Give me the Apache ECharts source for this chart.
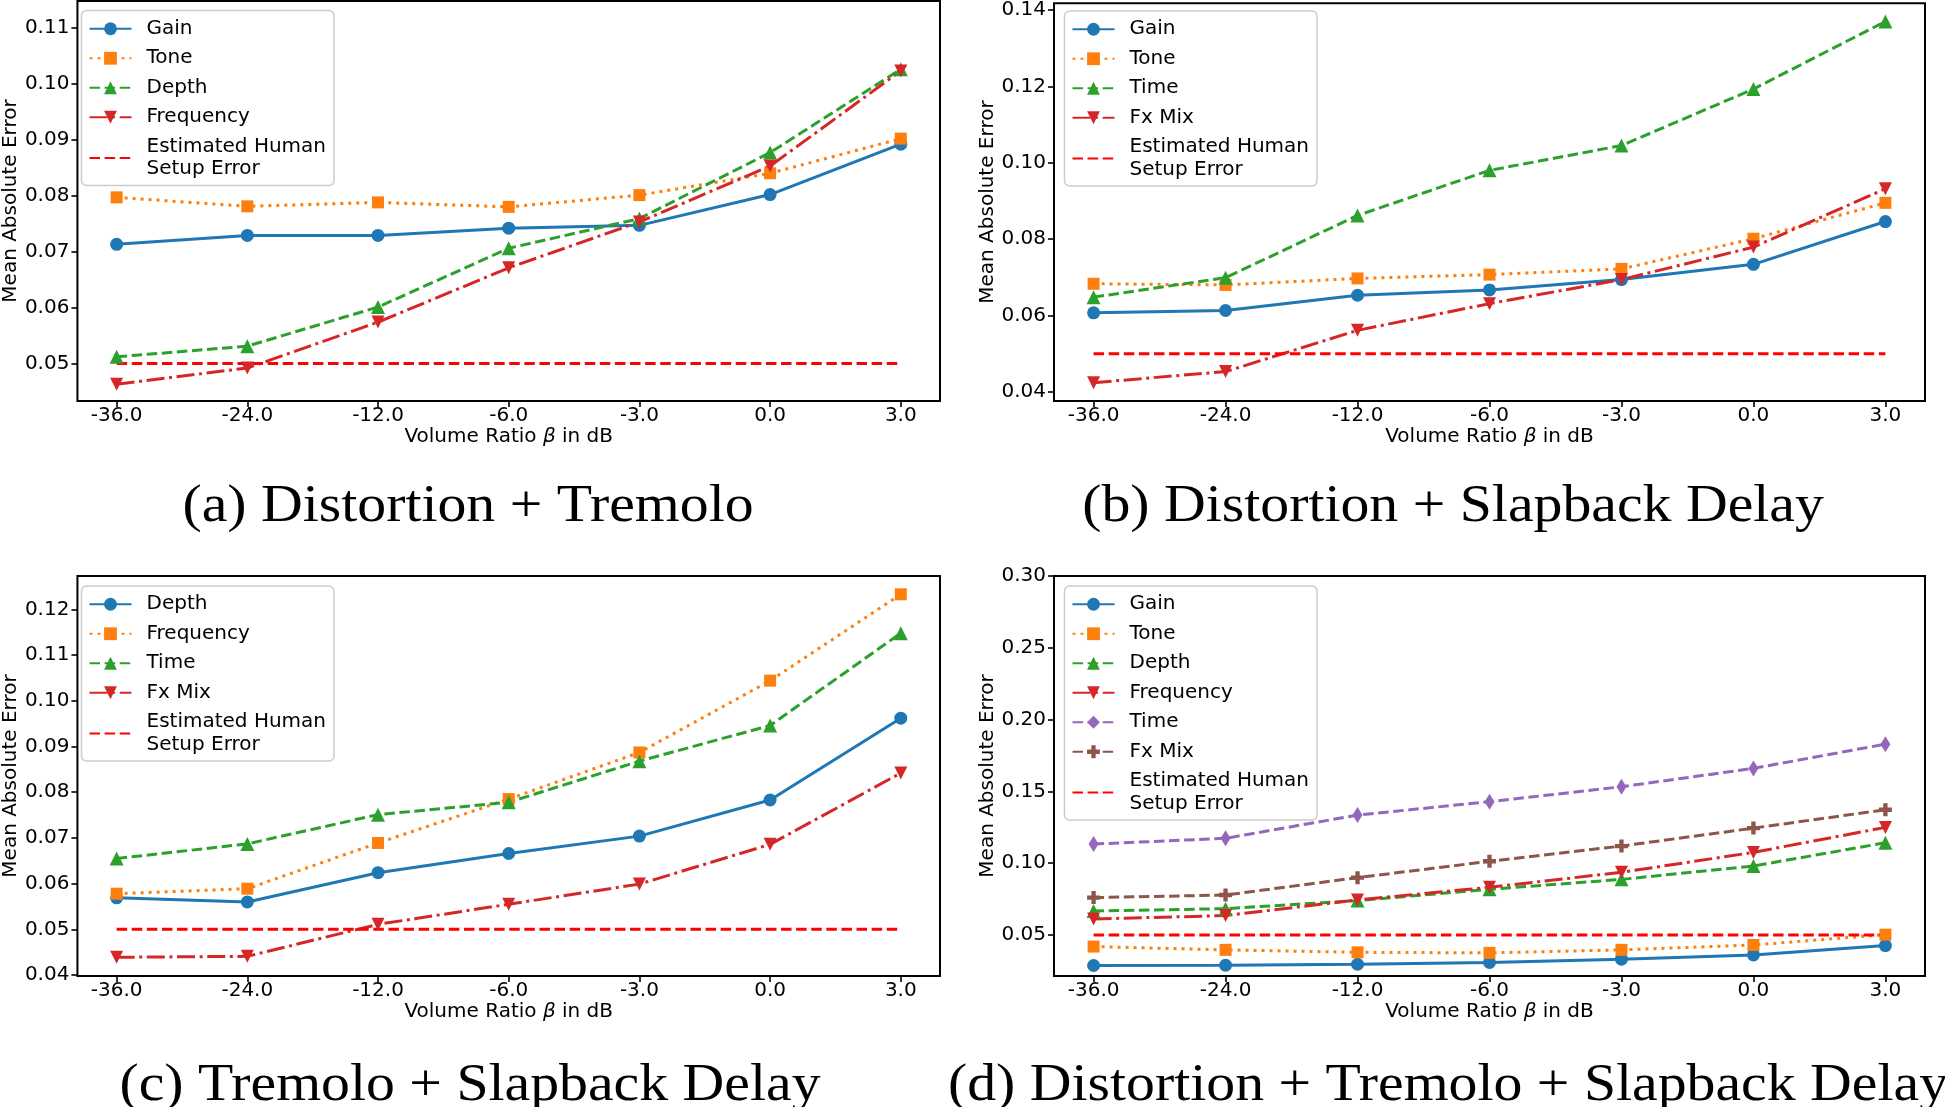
<!DOCTYPE html>
<html>
<head>
<meta charset="utf-8">
<script src="https://cdn.jsdelivr.net/npm/echarts@6/dist/echarts.min.js"></script>
<style>
html,body{margin:0;padding:0;background:#fff;}
#chart{width:1945px;height:1107px;}
</style>
</head>
<body>
<div id="chart"></div>
<script>
// ---------------- DATA ----------------
const xCats = ['-36.0', '-24.0', '-12.0', '-6.0', '-3.0', '0.0', '3.0'];
const humanErr = [0.05, 0.05, 0.05, 0.05, 0.05, 0.05, 0.05];

// (a) Distortion + Tremolo
const aGain  = [0.0713, 0.0729, 0.0729, 0.0742, 0.0747, 0.0802, 0.0892];
const aTone  = [0.0797, 0.0781, 0.0788, 0.0780, 0.0801, 0.0840, 0.0902];
const aDepth = [0.0512, 0.0531, 0.0601, 0.0706, 0.0759, 0.0877, 0.1026];
const aFreq  = [0.0463, 0.0492, 0.0574, 0.0671, 0.0753, 0.0853, 0.1023];

// (b) Distortion + Slapback Delay
const bGain  = [0.0607, 0.0613, 0.0653, 0.0667, 0.0694, 0.0734, 0.0846];
const bTone  = [0.0683, 0.0680, 0.0697, 0.0707, 0.0722, 0.0801, 0.0895];
const bTime  = [0.0648, 0.0699, 0.0862, 0.0980, 0.1045, 0.1193, 0.1370];
const bFxMix = [0.0424, 0.0453, 0.0561, 0.0631, 0.0694, 0.0779, 0.0932];

// (c) Tremolo + Slapback Delay
const cDepth = [0.0569, 0.0560, 0.0624, 0.0666, 0.0704, 0.0783, 0.0962];
const cFreq  = [0.0578, 0.0589, 0.0689, 0.0785, 0.0887, 0.1044, 0.1233];
const cTime  = [0.0655, 0.0687, 0.0751, 0.0778, 0.0868, 0.0946, 0.1148];
const cFxMix = [0.0439, 0.0441, 0.0511, 0.0555, 0.0599, 0.0686, 0.0842];

// (d) Distortion + Tremolo + Slapback Delay
const dGain  = [0.0287, 0.0289, 0.0296, 0.0308, 0.0331, 0.0361, 0.0426];
const dTone  = [0.0419, 0.0396, 0.0379, 0.0375, 0.0396, 0.0430, 0.0502];
const dDepth = [0.0667, 0.0683, 0.0739, 0.0818, 0.0887, 0.0980, 0.1142];
const dFreq  = [0.0611, 0.0635, 0.0744, 0.0832, 0.0936, 0.1075, 0.1249];
const dTime  = [0.1133, 0.1173, 0.1335, 0.1428, 0.1532, 0.1660, 0.1829];
const dFxMix = [0.0760, 0.0778, 0.0899, 0.1013, 0.1119, 0.1244, 0.1372];

// tick labels
const aYTicks = [0.05, 0.06, 0.07, 0.08, 0.09, 0.10, 0.11];
const bYTicks = [0.04, 0.06, 0.08, 0.10, 0.12, 0.14];
const cYTicks = [0.04, 0.05, 0.06, 0.07, 0.08, 0.09, 0.10, 0.11, 0.12];
const dYTicks = [0.05, 0.10, 0.15, 0.20, 0.25, 0.30];
const yRanges = [[0.0433, 0.1148], [0.0376, 0.1418], [0.0398, 0.1273], [0.0214, 0.30]];

const captions = ['(a) Distortion + Tremolo', '(b) Distortion + Slapback Delay',
                  '(c) Tremolo + Slapback Delay', '(d) Distortion + Tremolo + Slapback Delay'];
const humanName = 'Estimated Human\nSetup Error';
const xTitle = 'Volume Ratio {i|β} in dB';
const yTitle = 'Mean Absolute Error';

// ---------------- STYLE ----------------
const COL = {blue:'#1f77b4', orange:'#ff7f0e', green:'#2ca02c', red:'#d62728',
             purple:'#9467bd', brown:'#8c564b', human:'#ff0000'};
const LW = 3;
const SOLID = 'solid', DASH = [10.5, 4.6], DOT = [3, 5], DASHDOT = [18, 4.6, 3, 4.6];
const TRI_DOWN = 'path://M0,0L2,0L1,1.8Z';
const PLUS = 'path://M1,0L2,0L2,1L3,1L3,2L2,2L2,3L1,3L1,2L0,2L0,1L1,1Z';
const FONT = 'DejaVu Sans';

const grids = [
  {left: 71,   top: 1,   width: 869, height: 400},
  {left: 1054, top: 1,   width: 871, height: 400},
  {left: 71,   top: 576, width: 869, height: 400},
  {left: 1054, top: 576, width: 871, height: 400}
];
const yTickSets = [aYTicks, bYTicks, cYTicks, dYTicks];

const panels = [
  [ ['Gain', aGain, COL.blue, SOLID, 'circle', 13],
    ['Tone', aTone, COL.orange, DOT, 'rect', 12],
    ['Depth', aDepth, COL.green, DASH, 'triangle', 14],
    ['Frequency', aFreq, COL.red, DASHDOT, TRI_DOWN, 13] ],
  [ ['Gain', bGain, COL.blue, SOLID, 'circle', 13],
    ['Tone', bTone, COL.orange, DOT, 'rect', 12],
    ['Time', bTime, COL.green, DASH, 'triangle', 14],
    ['Fx Mix', bFxMix, COL.red, DASHDOT, TRI_DOWN, 13] ],
  [ ['Depth', cDepth, COL.blue, SOLID, 'circle', 13],
    ['Frequency', cFreq, COL.orange, DOT, 'rect', 12],
    ['Time', cTime, COL.green, DASH, 'triangle', 14],
    ['Fx Mix', cFxMix, COL.red, DASHDOT, TRI_DOWN, 13] ],
  [ ['Gain', dGain, COL.blue, SOLID, 'circle', 13],
    ['Tone', dTone, COL.orange, DOT, 'rect', 12],
    ['Depth', dDepth, COL.green, DASH, 'triangle', 14],
    ['Frequency', dFreq, COL.red, DASHDOT, TRI_DOWN, 13],
    ['Time', dTime, COL.purple, DASH, 'diamond', [10, 16]],
    ['Fx Mix', dFxMix, COL.brown, DASH, PLUS, 13] ]
];
const legendPos = [{left: 81.5, top: 10.5}, {left: 1064.5, top: 11}, {left: 81.5, top: 586}, {left: 1064.5, top: 586}];
const captionPos = [[468, 507], [1453, 507], [470, 1086], [1448, 1086]];

const uniq = (name, gi) => name + '\u200b'.repeat(gi + 1);
const strip = s => s.replace(/\u200b/g, '');
const legendFmt = name => {
  const s = strip(name);
  return s.indexOf('\n') >= 0 ? s.split('\n').map(l => '{t|' + l + '}').join('\n') : s;
};

const series = [], legends = [], xAxes = [], yAxes = [];
panels.forEach((list, gi) => {
  const names = [];
  list.forEach(([name, vals, color, ltype, sym, size]) => {
    const nm = uniq(name, gi);
    names.push(nm);
    series.push({
      name: nm, type: 'line', xAxisIndex: gi, yAxisIndex: gi,
      data: vals.map((v, i) => [i, v]),
      symbol: sym, symbolSize: size, showSymbol: true,
      lineStyle: {color, width: LW, type: ltype, cap: 'butt'},
      itemStyle: {color, borderWidth: 0},
      emphasis: {disabled: true}, animation: false
    });
  });
  const hn = uniq(humanName, gi);
  names.push(hn);
  series.push({
    name: hn, type: 'line', xAxisIndex: gi, yAxisIndex: gi,
    data: humanErr.map((v, i) => [i, v]),
    symbol: 'circle', symbolSize: 0, showSymbol: false,
    lineStyle: {color: COL.human, width: LW, type: DASH, cap: 'butt'},
    itemStyle: {color: COL.human, opacity: 0},
    emphasis: {disabled: true}, animation: false
  });
  legends.push({
    data: names, orient: 'vertical', left: legendPos[gi].left, top: legendPos[gi].top,
    itemWidth: 42, itemHeight: 16, itemGap: 7,
    padding: [7, 8, 5, 7],
    backgroundColor: '#fff', borderColor: '#cccccc', borderWidth: 1.5, borderRadius: 5,
    formatter: legendFmt, selectedMode: false,
    textStyle: {fontFamily: FONT, fontSize: 20, color: '#000', lineHeight: 22.5, padding: [0, 0, 0, 10],
      rich: {t: {fontFamily: FONT, fontSize: 20, color: '#000', lineHeight: 22.5}}}
  });
  xAxes.push({
    type: 'value', gridIndex: gi, min: -0.3, max: 6.3,
    name: xTitle, nameLocation: 'middle', nameGap: 26,
    nameTextStyle: {fontFamily: FONT, fontSize: 20, color: '#000',
      rich: {i: {fontFamily: FONT, fontSize: 20, fontStyle: 'italic', color: '#000'}}},
    axisLine: {show: false, onZero: false},
    axisTick: {show: true, length: 6, lineStyle: {color: '#000', width: 1.6}, customValues: [0, 1, 2, 3, 4, 5, 6]},
    axisLabel: {fontFamily: FONT, fontSize: 20, color: '#000', margin: 5,
      customValues: [0, 1, 2, 3, 4, 5, 6], formatter: v => xCats[Math.round(v)]},
    splitLine: {show: false}
  });
  yAxes.push({
    type: 'value', gridIndex: gi, min: yRanges[gi][0], max: yRanges[gi][1],
    name: yTitle, nameLocation: 'middle', nameGap: 52,
    nameTextStyle: {fontFamily: FONT, fontSize: 20, color: '#000'},
    axisLine: {show: false, onZero: false},
    axisTick: {show: true, length: 6, lineStyle: {color: '#000', width: 1.6}, customValues: yTickSets[gi]},
    axisLabel: {fontFamily: FONT, fontSize: 20, color: '#000', margin: 8,
      customValues: yTickSets[gi], formatter: v => v.toFixed(2)},
    splitLine: {show: false}
  });
});

const graphics = captions.map((t, i) => ({
  type: 'text', x: captionPos[i][0], y: captionPos[i][1], scaleX: 1.09,
  style: {text: t, x: 0, y: 0, align: 'center', verticalAlign: 'middle',
    font: '53px "Liberation Serif"', fill: '#000'}
}));

const chart = echarts.init(document.getElementById('chart'), null, {renderer: 'canvas'});
chart.setOption({
  animation: false,
  backgroundColor: '#fff',
  textStyle: {fontFamily: FONT},
  grid: grids.map(g => Object.assign({show: true, borderColor: '#000', borderWidth: 2, backgroundColor: 'transparent'}, g)),
  xAxis: xAxes,
  yAxis: yAxes,
  legend: legends,
  series: series,
  graphic: graphics
});
</script>
</body>
</html>
